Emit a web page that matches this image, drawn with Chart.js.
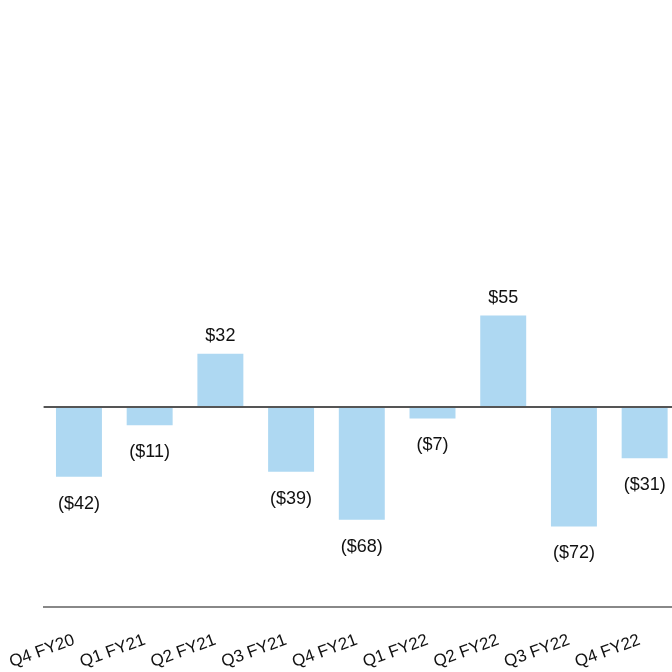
<!DOCTYPE html>
<html>
<head>
<meta charset="utf-8">
<script src="https://cdn.jsdelivr.net/npm/chart.js@4/dist/chart.umd.min.js"></script>
<style>
  html, body { margin: 0; padding: 0; background: #fff; overflow: hidden; }
  #wrap { width: 700px; height: 672px; }
</style>
</head>
<body>
<div id="wrap"><canvas id="cashChart"></canvas></div>
<script>
const quarters = ['Q4 FY20', 'Q1 FY21', 'Q2 FY21', 'Q3 FY21', 'Q4 FY21', 'Q1 FY22', 'Q2 FY22', 'Q3 FY22', 'Q4 FY22']
const values = [-42, -11, 32, -39, -68, -7, 55, -72, -31]

const barColor = '#aed8f2'
const textColor = '#111111'
const fontFamily = '"Liberation Sans", Arial, sans-serif'

function money(v) {
  return v < 0 ? `($${Math.abs(v)})` : `$${v}`
}

// dark rule across the plot at zero
const zeroLine = {
  id: 'zeroLine',
  afterDatasetsDraw(chart) {
    const { ctx, chartArea, scales } = chart
    const y = scales.y.getPixelForValue(0)
    ctx.save()
    ctx.strokeStyle = '#555555'
    ctx.lineWidth = 2
    ctx.beginPath()
    ctx.moveTo(chartArea.left, y)
    ctx.lineTo(chartArea.right, y)
    ctx.stroke()
    ctx.restore()
  }
}

// value text above / below each bar
const valueLabels = {
  id: 'valueLabels',
  afterDatasetsDraw(chart) {
    const { ctx } = chart
    const meta = chart.getDatasetMeta(0)
    ctx.save()
    ctx.font = `18px ${fontFamily}`
    ctx.fillStyle = textColor
    ctx.textAlign = 'center'
    ctx.textBaseline = 'middle'
    meta.data.forEach((bar, i) => {
      const v = values[i]
      const y = v < 0 ? bar.y + 27 : bar.y - 18
      ctx.fillText(money(v), bar.x, y)
    })
    ctx.restore()
  }
}

new Chart(document.getElementById('cashChart'), {
  type: 'bar',
  data: {
    labels: quarters,
    datasets: [{
      data: values,
      backgroundColor: barColor,
      borderWidth: 0,
      barPercentage: 0.65,
      categoryPercentage: 1,
    }]
  },
  options: {
    responsive: true,
    maintainAspectRatio: false,
    animation: false,
    layout: { padding: { left: 43.6, right: 20, top: 0, bottom: 0 } },
    plugins: {
      legend: { display: false },
      tooltip: { enabled: false },
    },
    scales: {
      x: {
        grid: { display: false, drawTicks: false },
        border: { display: true, color: '#888888', width: 2 },
        ticks: {
          color: textColor,
          font: { family: fontFamily, size: 17 },
          minRotation: 20,
          maxRotation: 20,
          padding: 23,
          labelOffset: -5,
        },
        afterFit(scale) {
          // let the slanted labels hang off the left edge
          scale.height = 65
          scale.paddingLeft = 0
          scale.paddingRight = 0
        },
      },
      y: {
        display: false,
        min: -120.5,
        max: 245,
      }
    }
  },
  plugins: [zeroLine, valueLabels]
})
</script>
</body>
</html>
